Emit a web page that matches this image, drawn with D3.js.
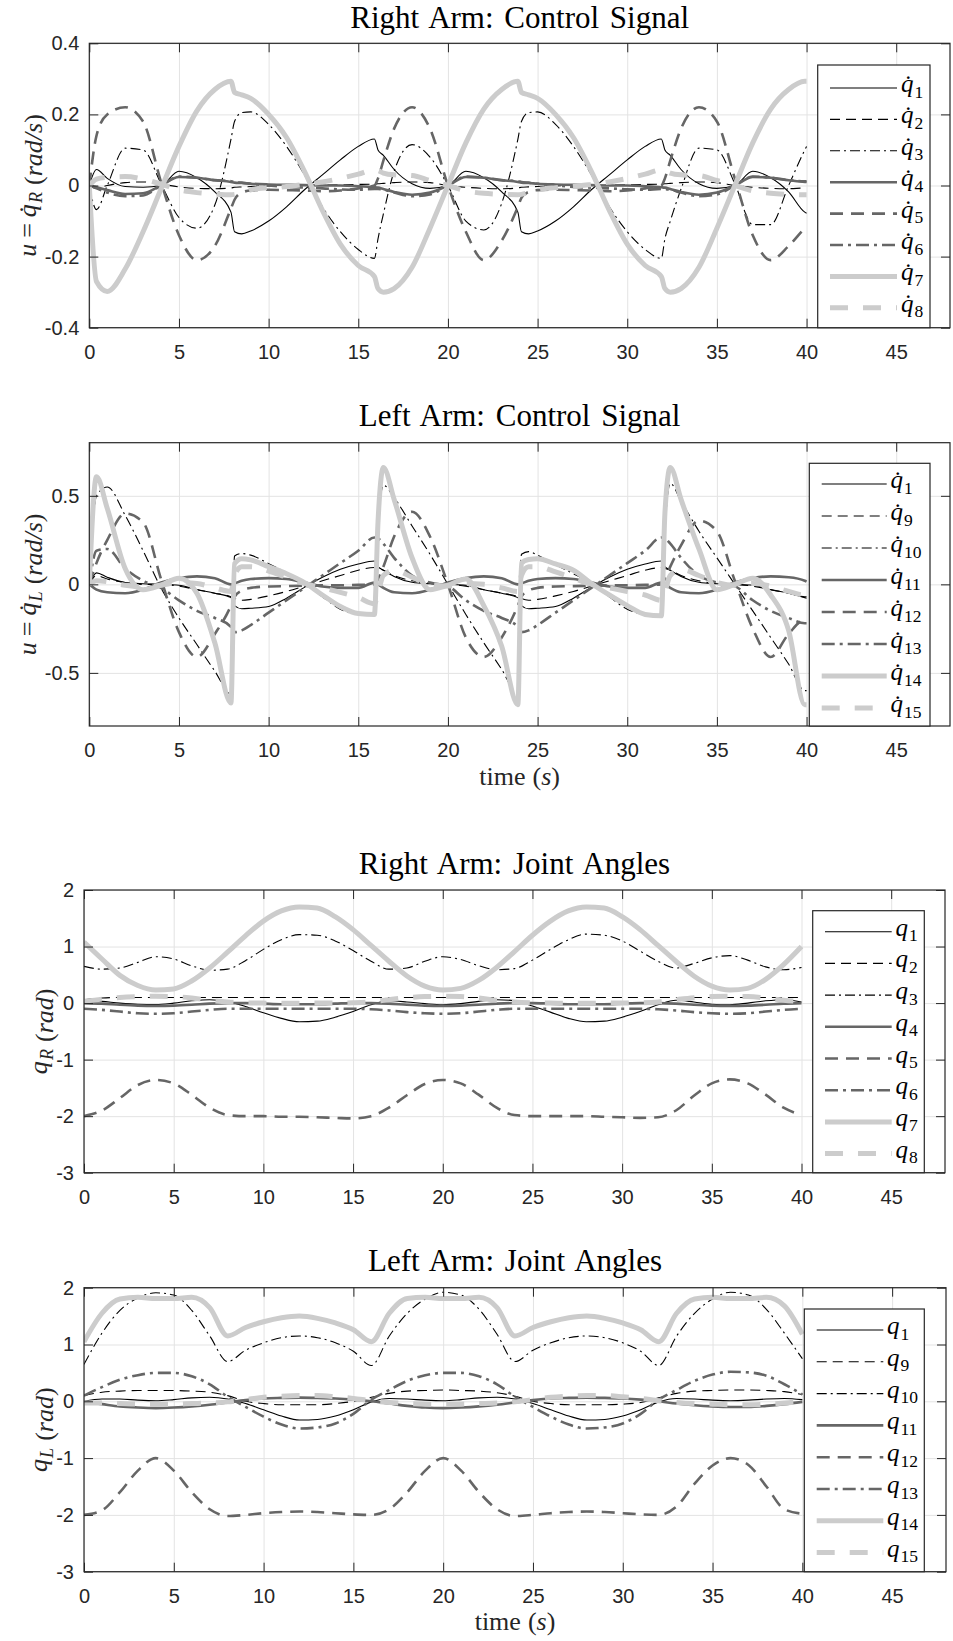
<!DOCTYPE html>
<html>
<head>
<meta charset="utf-8">
<script src="https://cdn.jsdelivr.net/npm/d3@7"></script>
<style>
body{margin:0;background:#fff}
</style>
</head>
<body>
<div id="chart"></div>
<script>
// time samples (s) for the control signals: denser round the switching instants
var tCtrl = [0, 0.4, 1, 2, 3, 4, 5, 6, 7, 7.9,
  8.1, 8.5, 9, 10, 11, 12, 13, 14, 15, 15.9,
  16.1, 16.4, 17, 18, 19, 20, 21, 22, 23, 23.9,
  24.1, 24.5, 25, 26, 27, 28, 29, 30, 31, 31.9,
  32.1, 32.4, 33, 34, 35, 36, 37, 38, 39, 39.9, 40]
// time samples (s) for the joint angles
var tAng = [0, 1, 2, 3, 4, 5, 6, 7, 8, 9, 10, 11, 12, 13, 14, 15, 16, 17, 18, 19, 20,
  21, 22, 23, 24, 25, 26, 27, 28, 29, 30, 31, 32, 33, 34, 35, 36, 37, 38, 39, 40]

// right arm control signal (rad/s)
var uR1 = [0, 0.045, 0.02, -0.003, -0.005, 0.0, 0.04, 0.022, -0.018, -0.075,
  -0.13, -0.136, -0.128, -0.1, -0.06, -0.012, 0.03, 0.072, 0.11, 0.131,
  0.1, 0.085, 0.045, 0.005, -0.008, 0.0, 0.04, 0.022, -0.018, -0.075,
  -0.13, -0.136, -0.128, -0.1, -0.06, -0.012, 0.03, 0.072, 0.11, 0.131,
  0.1, 0.085, 0.045, 0.005, -0.008, 0.0, 0.04, 0.022, -0.018, -0.075, -0.078]
var uR2 = [0, -0.008, 0.0, 0.008, 0.01, 0.004, -0.004, -0.008, -0.009, -0.007,
  -0.005, -0.004, -0.003, -0.001, 0.0, 0.0, 0.001, 0.002, 0.003, 0.004,
  0.005, 0.006, 0.008, 0.01, 0.008, 0.0, -0.005, -0.008, -0.009, -0.007,
  -0.005, -0.004, -0.003, -0.001, 0.0, 0.0, 0.001, 0.002, 0.003, 0.004,
  0.005, 0.006, 0.008, 0.01, 0.008, 0.0, -0.005, -0.008, -0.009, -0.007, -0.007]
var uR3 = [0, -0.068, 0.0, 0.105, 0.1, 0.005, -0.09, -0.12, -0.055, 0.13,
  0.18, 0.205, 0.207, 0.172, 0.11, 0.03, -0.06, -0.13, -0.18, -0.205,
  -0.15, -0.08, 0.04, 0.115, 0.08, 0.0, -0.1, -0.125, -0.05, 0.13,
  0.18, 0.205, 0.207, 0.172, 0.11, 0.03, -0.06, -0.13, -0.18, -0.205,
  -0.15, -0.1, -0.01, 0.105, 0.1, 0.005, -0.11, -0.11, 0.0, 0.1, 0.11]
var uR4 = [0, -0.005, -0.013, -0.024, -0.022, 0.0, 0.024, 0.022, 0.015, 0.01,
  0.008, 0.007, 0.005, 0.003, 0.002, 0.001, 0.0, 0.0, -0.002, -0.005,
  -0.006, -0.01, -0.018, -0.026, -0.02, 0.0, 0.024, 0.022, 0.015, 0.01,
  0.008, 0.007, 0.005, 0.003, 0.002, 0.001, 0.0, 0.0, -0.002, -0.005,
  -0.006, -0.01, -0.018, -0.026, -0.02, 0.0, 0.024, 0.022, 0.015, 0.01, 0.01]
var uR5 = [0, 0.14, 0.2, 0.22, 0.18, 0.01, -0.14, -0.21, -0.17, -0.065,
  -0.04, -0.02, -0.014, -0.012, -0.013, -0.014, -0.016, -0.014, -0.008, 0.0,
  0.02, 0.07, 0.16, 0.22, 0.16, 0.0, -0.13, -0.21, -0.155, -0.06,
  -0.035, -0.018, -0.013, -0.012, -0.013, -0.014, -0.016, -0.014, -0.008, 0.0,
  0.02, 0.07, 0.16, 0.22, 0.18, 0.02, -0.14, -0.21, -0.17, -0.12, -0.115]
var uR6 = [0, -0.008, -0.02, -0.03, -0.028, 0.0, 0.025, 0.022, 0.015, 0.012,
  0.01, 0.008, 0.005, 0.0, -0.004, -0.006, -0.008, -0.011, -0.012, -0.01,
  -0.01, -0.012, -0.02, -0.03, -0.025, 0.0, 0.025, 0.022, 0.015, 0.012,
  0.01, 0.008, 0.005, 0.0, -0.004, -0.006, -0.008, -0.011, -0.012, -0.01,
  -0.01, -0.012, -0.02, -0.03, -0.025, 0.0, 0.025, 0.022, 0.015, 0.012, 0.012]
var uR7 = [0, -0.27, -0.298, -0.235, -0.13, -0.01, 0.11, 0.21, 0.27, 0.293,
  0.262, 0.255, 0.245, 0.2, 0.135, 0.04, -0.07, -0.165, -0.225, -0.256,
  -0.29, -0.3, -0.29, -0.23, -0.12, 0.0, 0.12, 0.215, 0.27, 0.293,
  0.262, 0.255, 0.245, 0.2, 0.135, 0.04, -0.07, -0.165, -0.225, -0.256,
  -0.29, -0.3, -0.29, -0.23, -0.12, 0.0, 0.12, 0.215, 0.27, 0.293, 0.293]
var uR8 = [0, 0.018, 0.023, 0.025, 0.018, 0.004, -0.012, -0.02, -0.024, -0.026,
  -0.025, -0.02, -0.012, -0.006, -0.003, 0.003, 0.01, 0.02, 0.032, 0.044,
  0.042, 0.035, 0.03, 0.028, 0.014, 0.0, -0.015, -0.022, -0.025, -0.026,
  -0.025, -0.02, -0.012, -0.006, -0.003, 0.003, 0.01, 0.02, 0.032, 0.044,
  0.042, 0.035, 0.03, 0.028, 0.014, 0.0, -0.015, -0.022, -0.025, -0.026, -0.026]

// left arm control signal (rad/s)
var uL1 = [0, 0.065, 0.04, 0.01, 0.003, 0.0, -0.005, -0.03, -0.05, -0.075,
  -0.12, -0.138, -0.135, -0.125, -0.078, -0.017, 0.04, 0.085, 0.115, 0.132,
  0.1, 0.08, 0.045, 0.012, 0.003, 0.0, -0.005, -0.03, -0.05, -0.075,
  -0.12, -0.138, -0.135, -0.125, -0.078, -0.017, 0.04, 0.085, 0.115, 0.132,
  0.1, 0.08, 0.045, 0.012, 0.003, 0.0, -0.005, -0.03, -0.05, -0.075, -0.078]
var uL9 = [0, 0.05, 0.03, 0.01, 0.0, 0.0, -0.01, -0.03, -0.05, -0.07,
  -0.08, -0.09, -0.085, -0.065, -0.04, -0.01, 0.02, 0.05, 0.08, 0.095,
  0.09, 0.08, 0.05, 0.02, 0.005, 0.0, -0.01, -0.03, -0.05, -0.07,
  -0.08, -0.09, -0.085, -0.065, -0.04, -0.01, 0.02, 0.05, 0.08, 0.095,
  0.09, 0.08, 0.05, 0.02, 0.005, 0.0, -0.01, -0.03, -0.05, -0.07, -0.07]
var uL10 = [0, 0.5, 0.55, 0.39, 0.19, -0.02, -0.19, -0.34, -0.49, -0.62,
  0.16, 0.174, 0.165, 0.117, 0.065, 0.005, -0.07, -0.14, -0.17, -0.175,
  0.3, 0.56, 0.49, 0.33, 0.17, 0.0, -0.17, -0.33, -0.48, -0.62,
  0.17, 0.185, 0.165, 0.11, 0.06, 0.005, -0.07, -0.14, -0.17, -0.175,
  0.3, 0.57, 0.47, 0.3, 0.15, 0.0, -0.15, -0.3, -0.45, -0.6, -0.6]
var uL11 = [0, -0.03, -0.045, -0.05, -0.03, 0.01, 0.035, 0.045, 0.035, 0.0,
  0.005, 0.02, 0.03, 0.035, 0.03, 0.01, -0.012, -0.02, -0.02, 0.01,
  0.0, -0.02, -0.045, -0.05, -0.03, 0.01, 0.035, 0.045, 0.035, 0.0,
  0.005, 0.02, 0.03, 0.035, 0.03, 0.01, -0.012, -0.02, -0.02, 0.01,
  0.0, -0.02, -0.045, -0.05, -0.03, 0.01, 0.035, 0.045, 0.04, 0.02, 0.015]
var uL12 = [0, 0.12, 0.25, 0.4, 0.35, 0.03, -0.27, -0.41, -0.28, -0.12,
  -0.07, -0.035, -0.02, -0.012, -0.01, -0.008, -0.006, -0.005, -0.003, 0.0,
  0.03, 0.1, 0.27, 0.41, 0.27, 0.0, -0.3, -0.41, -0.3, -0.12,
  -0.07, -0.035, -0.02, -0.012, -0.01, -0.008, -0.006, -0.005, -0.003, 0.0,
  0.03, 0.1, 0.22, 0.36, 0.3, 0.02, -0.25, -0.41, -0.28, -0.2, -0.2]
var uL13 = [0, 0.19, 0.2, 0.09, 0.02, -0.02, -0.09, -0.15, -0.19, -0.24,
  -0.27, -0.26, -0.23, -0.16, -0.09, -0.02, 0.05, 0.12, 0.19, 0.265,
  0.26, 0.23, 0.15, 0.05, 0.01, -0.01, -0.09, -0.15, -0.19, -0.24,
  -0.27, -0.26, -0.23, -0.16, -0.09, -0.02, 0.05, 0.12, 0.19, 0.265,
  0.26, 0.23, 0.15, 0.05, 0.01, -0.01, -0.09, -0.15, -0.19, -0.22, -0.22]
var uL14 = [0, 0.607, 0.43, 0.09, -0.03, -0.005, 0.035, -0.05, -0.33, -0.67,
  0.117, 0.145, 0.138, 0.1, 0.06, 0.01, -0.06, -0.125, -0.165, -0.17,
  0.35, 0.66, 0.48, 0.15, -0.03, -0.005, 0.03, -0.12, -0.35, -0.68,
  0.12, 0.14, 0.145, 0.115, 0.08, 0.005, -0.06, -0.12, -0.17, -0.178,
  0.4, 0.66, 0.48, 0.2, -0.03, 0.0, 0.035, -0.06, -0.26, -0.68, -0.68]
var uL15 = [0, 0.02, 0.015, -0.005, -0.015, -0.005, 0.01, 0.005, -0.02, -0.04,
  0.05, 0.1, 0.1, 0.075, 0.04, 0.005, -0.02, -0.045, -0.075, -0.11,
  -0.05, 0.05, 0.08, 0.04, 0.0, -0.01, 0.005, 0.0, -0.02, -0.04,
  0.05, 0.1, 0.1, 0.07, 0.035, 0.0, -0.02, -0.04, -0.06, -0.09,
  -0.04, 0.05, 0.085, 0.05, 0.01, -0.005, 0.005, -0.01, -0.04, -0.06, -0.06]

// right arm joint angles (rad)
var qR1 = [0.05, 0.03, 0.0, -0.02, -0.025, 0.0, 0.04, 0.06,
  0.03, -0.06, -0.17, -0.27, -0.33, -0.32, -0.25, -0.15,
  -0.03, 0.04, 0.02, -0.01, -0.03, -0.01, 0.03, 0.06,
  0.04, -0.05, -0.16, -0.27, -0.33, -0.32, -0.25, -0.15,
  -0.03, 0.05, 0.02, -0.02, -0.03, 0.0, 0.04, 0.06, 0.02]
var qR2 = [0.06, 0.09, 0.1, 0.1, 0.1, 0.1, 0.1, 0.1,
  0.1, 0.1, 0.1, 0.1, 0.1, 0.1, 0.1, 0.1,
  0.1, 0.1, 0.1, 0.1, 0.1, 0.1, 0.1, 0.1,
  0.1, 0.1, 0.1, 0.1, 0.1, 0.1, 0.1, 0.1,
  0.1, 0.1, 0.1, 0.1, 0.1, 0.1, 0.1, 0.1, 0.1]
var qR3 = [0.65, 0.6, 0.62, 0.72, 0.82, 0.78, 0.66, 0.58,
  0.6, 0.75, 0.95, 1.12, 1.21, 1.2, 1.1, 0.93,
  0.74, 0.6, 0.62, 0.74, 0.82, 0.77, 0.66, 0.59,
  0.61, 0.76, 0.95, 1.12, 1.22, 1.2, 1.1, 0.92,
  0.74, 0.62, 0.7, 0.8, 0.84, 0.76, 0.64, 0.59, 0.63]
var qR4 = [0.0, -0.01, -0.03, -0.045, -0.05, -0.045, -0.03, -0.01,
  0.0, 0.0, -0.01, -0.02, -0.02, -0.02, -0.01, 0.0,
  0.0, -0.01, -0.03, -0.045, -0.05, -0.045, -0.03, -0.01,
  0.0, 0.0, -0.01, -0.02, -0.02, -0.02, -0.01, 0.0,
  0.0, -0.01, -0.03, -0.045, -0.05, -0.045, -0.03, -0.01, 0.0]
var qR5 = [-2.0, -1.9, -1.68, -1.45, -1.36, -1.42, -1.62, -1.85,
  -1.98, -2.0, -2.0, -2.01, -2.01, -2.02, -2.03, -2.04,
  -2.0, -1.85, -1.63, -1.43, -1.36, -1.42, -1.62, -1.85,
  -1.98, -2.0, -2.0, -2.0, -2.0, -2.01, -2.02, -2.03,
  -2.02, -1.9, -1.64, -1.42, -1.35, -1.42, -1.62, -1.85, -1.98]
var qR6 = [-0.1, -0.12, -0.15, -0.18, -0.19, -0.18, -0.15, -0.12,
  -0.1, -0.1, -0.1, -0.1, -0.1, -0.1, -0.1, -0.1,
  -0.11, -0.13, -0.16, -0.18, -0.19, -0.18, -0.15, -0.12,
  -0.1, -0.1, -0.1, -0.1, -0.1, -0.1, -0.1, -0.1,
  -0.11, -0.13, -0.16, -0.18, -0.19, -0.18, -0.15, -0.12, -0.1]
var qR7 = [1.08, 0.78, 0.49, 0.31, 0.23, 0.25, 0.39, 0.62,
  0.9, 1.19, 1.45, 1.63, 1.7, 1.68, 1.53, 1.3,
  1.02, 0.74, 0.48, 0.3, 0.23, 0.26, 0.4, 0.63,
  0.91, 1.2, 1.45, 1.63, 1.7, 1.68, 1.53, 1.3,
  1.02, 0.74, 0.48, 0.3, 0.23, 0.26, 0.42, 0.68, 1.0]
var qR8 = [0.03, 0.07, 0.1, 0.115, 0.12, 0.115, 0.09, 0.05,
  0.02, 0.005, 0.0, -0.005, -0.005, 0.0, 0.0, 0.005,
  0.02, 0.06, 0.095, 0.115, 0.12, 0.115, 0.09, 0.05,
  0.02, 0.005, 0.0, -0.005, -0.005, 0.0, 0.0, 0.005,
  0.02, 0.06, 0.095, 0.115, 0.12, 0.115, 0.09, 0.05, 0.03]

// left arm joint angles (rad)
var qL1 = [0.0, 0.04, 0.04, 0.02, 0.01, 0.03, 0.06, 0.07,
  0.04, -0.04, -0.15, -0.26, -0.33, -0.32, -0.26, -0.15,
  -0.01, 0.05, 0.04, 0.02, 0.01, 0.03, 0.06, 0.07,
  0.04, -0.04, -0.15, -0.26, -0.33, -0.32, -0.26, -0.15,
  -0.01, 0.05, 0.04, 0.02, 0.01, 0.02, 0.04, 0.05, 0.03]
var qL9 = [0.1, 0.16, 0.18, 0.19, 0.19, 0.19, 0.18, 0.16,
  0.1, 0.0, -0.04, -0.06, -0.06, -0.06, -0.04, 0.0,
  0.07, 0.14, 0.18, 0.19, 0.2, 0.19, 0.18, 0.15,
  0.09, 0.0, -0.04, -0.06, -0.06, -0.06, -0.05, -0.02,
  0.06, 0.14, 0.18, 0.19, 0.2, 0.2, 0.19, 0.17, 0.12]
var qL10 = [0.65, 1.2, 1.6, 1.82, 1.91, 1.87, 1.6, 1.15,
  0.7, 0.9, 1.03, 1.12, 1.15, 1.12, 1.03, 0.88,
  0.63, 1.15, 1.55, 1.8, 1.92, 1.87, 1.62, 1.18,
  0.7, 0.9, 1.03, 1.12, 1.15, 1.12, 1.03, 0.88,
  0.63, 1.15, 1.55, 1.8, 1.92, 1.87, 1.62, 1.2, 0.75]
var qL11 = [-0.01, -0.05, -0.09, -0.11, -0.12, -0.11, -0.09, -0.06,
  -0.02, 0.02, 0.05, 0.06, 0.065, 0.06, 0.05, 0.03,
  0.0, -0.04, -0.08, -0.11, -0.12, -0.11, -0.09, -0.06,
  -0.02, 0.02, 0.05, 0.06, 0.065, 0.06, 0.05, 0.03,
  0.0, -0.04, -0.07, -0.09, -0.1, -0.1, -0.08, -0.05, -0.01]
var qL12 = [-2.0, -1.92, -1.6, -1.22, -1.0, -1.22, -1.6, -1.9,
  -2.02, -2.0, -1.97, -1.95, -1.94, -1.95, -1.97, -1.99,
  -2.0, -1.9, -1.6, -1.22, -1.0, -1.22, -1.6, -1.9,
  -2.02, -2.0, -1.97, -1.95, -1.94, -1.95, -1.97, -1.99,
  -2.0, -1.85, -1.45, -1.13, -1.0, -1.12, -1.5, -1.9, -1.98]
var qL13 = [0.1, 0.25, 0.38, 0.46, 0.5, 0.5, 0.44, 0.3,
  0.08, -0.1, -0.27, -0.41, -0.48, -0.46, -0.39, -0.22,
  0.03, 0.2, 0.36, 0.46, 0.5, 0.5, 0.44, 0.3,
  0.08, -0.1, -0.27, -0.41, -0.48, -0.46, -0.39, -0.22,
  0.03, 0.2, 0.36, 0.47, 0.52, 0.51, 0.45, 0.3, 0.12]
var qL14 = [1.05, 1.55, 1.8, 1.83, 1.81, 1.81, 1.83, 1.65,
  1.15, 1.3, 1.4, 1.47, 1.5, 1.46, 1.38, 1.26,
  1.05, 1.55, 1.81, 1.83, 1.81, 1.81, 1.83, 1.65,
  1.15, 1.3, 1.4, 1.47, 1.5, 1.46, 1.38, 1.26,
  1.05, 1.55, 1.8, 1.83, 1.81, 1.81, 1.83, 1.68, 1.18]
var qL15 = [-0.03, -0.03, -0.04, -0.05, -0.05, -0.05, -0.04, -0.03,
  -0.01, 0.03, 0.07, 0.09, 0.1, 0.1, 0.08, 0.05,
  0.01, -0.02, -0.04, -0.05, -0.05, -0.05, -0.04, -0.03,
  -0.01, 0.03, 0.07, 0.09, 0.1, 0.1, 0.08, 0.05,
  0.01, -0.02, -0.04, -0.05, -0.06, -0.06, -0.05, -0.03, 0.0]

var xTicks = [0, 5, 10, 15, 20, 25, 30, 35, 40, 45]

// line styles, same order in every panel
var styles = [
  {c: "#000", w: 1.1, d: null},
  {c: "#000", w: 1.1, d: "10,6"},
  {c: "#000", w: 1.1, d: "10,4,2,4"},
  {c: "#666", w: 2.6, d: null},
  {c: "#666", w: 2.6, d: "13,8"},
  {c: "#666", w: 2.6, d: "13,5,3,5"},
  {c: "#ccc", w: 5, d: null},
  {c: "#ccc", w: 5, d: "18,15"}
]

var panels = [{
  title: "Right Arm: Control Signal", t: tCtrl,
  series: [uR1, uR2, uR3, uR4, uR5, uR6, uR7, uR8],
  subs: ["1", "2", "3", "4", "5", "6", "7", "8"], dot: true, side: "R", unit: "rad/s",
  ydom: [-0.4, 0.4], yticks: [-0.4, -0.2, 0, 0.2, 0.4],
  l: 89.3, r: 950, top: 43.3, b: 327.7, titleY: 28, ylabX: 27, xlab: false,
  lg: {x0: 817.7, x1: 930, y0: 65, y: 88, dy: 31.4, s0: 830, s1: 897, tx: 901}
}, {
  title: "Left Arm: Control Signal", t: tCtrl,
  series: [uL1, uL9, uL10, uL11, uL12, uL13, uL14, uL15],
  subs: ["1", "9", "10", "11", "12", "13", "14", "15"], dot: true, side: "L", unit: "rad/s",
  ydom: [-0.8, 0.8], yticks: [-0.5, 0, 0.5],
  l: 89.3, r: 950, top: 442.7, b: 726, titleY: 426, ylabX: 27, xlab: true, xlabY: 785,
  lg: {x0: 809.3, x1: 930, y0: 463.3, y: 484, dy: 32, s0: 821.7, s1: 886.7, tx: 890.5}
}, {
  title: "Right Arm: Joint Angles", t: tAng,
  series: [qR1, qR2, qR3, qR4, qR5, qR6, qR7, qR8],
  subs: ["1", "2", "3", "4", "5", "6", "7", "8"], dot: false, side: "R", unit: "rad",
  ydom: [-3, 2], yticks: [-3, -2, -1, 0, 1, 2],
  l: 84, r: 945, top: 890, b: 1172.7, titleY: 874, ylabX: 38, xlab: false,
  lg: {x0: 812.7, x1: 924.3, y0: 910.7, y: 931.7, dy: 31.7, s0: 825, s1: 891.7, tx: 895.5}
}, {
  title: "Left Arm: Joint Angles", t: tAng,
  series: [qL1, qL9, qL10, qL11, qL12, qL13, qL14, qL15],
  subs: ["1", "9", "10", "11", "12", "13", "14", "15"], dot: false, side: "L", unit: "rad",
  ydom: [-3, 2], yticks: [-3, -2, -1, 0, 1, 2],
  l: 84, r: 946, top: 1287.7, b: 1571.7, titleY: 1271, ylabX: 38, xlab: true, xlabY: 1630,
  lg: {x0: 804.3, x1: 924.3, y0: 1309, y: 1330, dy: 31.8, s0: 816.7, s1: 883.3, tx: 887}
}]

var W = 953, H = 1641
var serif = "'Liberation Serif','Times New Roman',serif"
var sans = "'Liberation Sans',Arial,Helvetica,sans-serif"
var axisCol = "#262626"

var svg = d3.select("#chart").append("svg").attr("width", W).attr("height", H)

// q with optional dot and subscript, as tspans (digit subscripts upright)
function qLabel(sel, sub, dot, size, dx) {
  sel.append("tspan").attr("font-style", "italic").attr("dx", dx || 0).text(dot ? "q\u0307" : "q")
  sel.append("tspan").attr("font-style", /^[0-9]+$/.test(sub) ? "normal" : "italic")
    .attr("font-size", size * 0.7).attr("dx", size * 0.04)
    .attr("dy", size * 0.22).text(sub)
  sel.append("tspan").attr("dy", -size * 0.22).text("")
}

panels.forEach(function (p, pi) {
  var x = d3.scaleLinear().domain([0, 48]).range([p.l, p.r])
  var y = d3.scaleLinear().domain(p.ydom).range([p.b, p.top])
  var g = svg.append("g")
  var h = p.b - p.top, w = p.r - p.l

  // grid
  g.append("g").attr("transform", "translate(0," + p.b + ")")
    .call(d3.axisBottom(x).tickValues(xTicks).tickSize(-h).tickFormat(""))
    .call(function (a) {
      a.select(".domain").remove()
      a.selectAll("line").attr("stroke", "#e3e3e3")
    })
  g.append("g").attr("transform", "translate(" + p.l + ",0)")
    .call(d3.axisLeft(y).tickValues(p.yticks).tickSize(-w).tickFormat(""))
    .call(function (a) {
      a.select(".domain").remove()
      a.selectAll("line").attr("stroke", "#e3e3e3")
    })

  // curves
  var clipId = "clip" + pi
  svg.append("clipPath").attr("id", clipId).append("rect")
    .attr("x", p.l).attr("y", p.top).attr("width", w).attr("height", h)
  var line = d3.line().x(function (d) { return x(d[0]) }).y(function (d) { return y(d[1]) })
    .curve(d3.curveMonotoneX)
  var lines = g.append("g").attr("clip-path", "url(#" + clipId + ")")
  p.series.forEach(function (vals, i) {
    var pts = p.t.map(function (tt, k) { return [tt, vals[k]] })
    lines.append("path").datum(pts)
      .attr("d", line)
      .attr("fill", "none")
      .attr("stroke", styles[i].c)
      .attr("stroke-width", styles[i].w)
      .attr("stroke-dasharray", styles[i].d)
      .attr("stroke-linejoin", "round")
  })

  // axes with inward ticks, labels
  var fmt = function (d) { return String(d) }
  var bottom = g.append("g").attr("transform", "translate(0," + p.b + ")")
    .call(d3.axisBottom(x).tickValues(xTicks).tickSize(-9).tickPadding(17).tickFormat(fmt))
  var left = g.append("g").attr("transform", "translate(" + p.l + ",0)")
    .call(d3.axisLeft(y).tickValues(p.yticks).tickSize(-9).tickPadding(10).tickFormat(fmt))
  var topAx = g.append("g").attr("transform", "translate(0," + p.top + ")")
    .call(d3.axisTop(x).tickValues(xTicks).tickSize(-9).tickFormat(""))
  var rightAx = g.append("g").attr("transform", "translate(" + p.r + ",0)")
    .call(d3.axisRight(y).tickValues(p.yticks).tickSize(-9).tickFormat(""))
  ;[bottom, left, topAx, rightAx].forEach(function (a) {
    a.select(".domain").remove()
    a.selectAll("line").attr("stroke", axisCol).attr("stroke-width", 1)
    a.selectAll("text").attr("fill", axisCol).attr("font-family", sans).attr("font-size", 20)
  })
  g.append("rect").attr("x", p.l).attr("y", p.top).attr("width", w).attr("height", h)
    .attr("fill", "none").attr("stroke", axisCol).attr("stroke-width", 1.2)

  // title
  g.append("text").attr("x", (p.l + p.r) / 2).attr("y", p.titleY)
    .attr("text-anchor", "middle").attr("font-family", serif).attr("font-size", 31)
    .attr("word-spacing", 3).attr("fill", "#000").text(p.title)

  // y label
  var yl = g.append("text")
    .attr("transform", "translate(" + p.ylabX + "," + ((p.top + p.b) / 2) + ") rotate(-90)")
    .attr("text-anchor", "middle").attr("dy", "0.35em")
    .attr("font-family", serif).attr("font-size", 26).attr("fill", axisCol)
  if (p.dot) {
    yl.append("tspan").attr("font-style", "italic").text("u")
    yl.append("tspan").attr("dx", 6).text("=")
  }
  qLabel(yl, p.side, p.dot, 26, p.dot ? 6 : 0)
  yl.append("tspan").attr("dx", 7).text("(")
  yl.append("tspan").attr("font-style", "italic").text(p.unit)
  yl.append("tspan").text(")")

  // x label
  if (p.xlab) {
    var xl = g.append("text").attr("x", (p.l + p.r) / 2).attr("y", p.xlabY)
      .attr("text-anchor", "middle").attr("font-family", serif).attr("font-size", 26)
      .attr("fill", axisCol)
    xl.append("tspan").text("time")
    xl.append("tspan").attr("dx", 7).text("(")
    xl.append("tspan").attr("font-style", "italic").text("s")
    xl.append("tspan").text(")")
  }

  // legend
  var lg = p.lg
  var leg = g.append("g")
  leg.append("rect").attr("x", lg.x0).attr("y", lg.y0)
    .attr("width", lg.x1 - lg.x0).attr("height", p.b - lg.y0)
    .attr("fill", "#fff").attr("stroke", axisCol).attr("stroke-width", 1.2)
  p.subs.forEach(function (s, i) {
    var yy = lg.y + i * lg.dy
    leg.append("line").attr("x1", lg.s0).attr("x2", lg.s1).attr("y1", yy).attr("y2", yy)
      .attr("stroke", styles[i].c).attr("stroke-width", styles[i].w)
      .attr("stroke-dasharray", styles[i].d)
    var tx = leg.append("text").attr("x", lg.tx).attr("y", yy + 4)
      .attr("font-family", serif).attr("font-size", 25).attr("fill", "#000")
    qLabel(tx, s, p.dot, 25)
  })
})
</script>
</body>
</html>
